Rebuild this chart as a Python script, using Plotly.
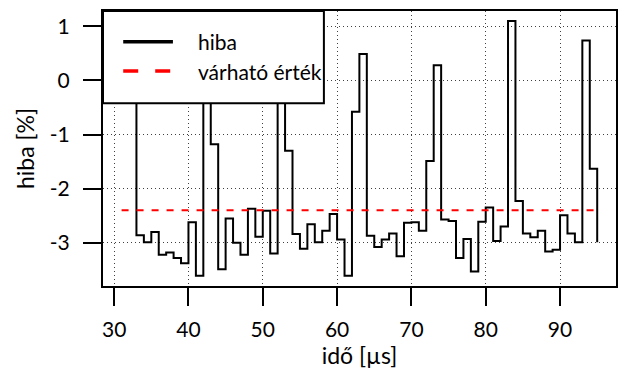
import plotly.graph_objects as go

# ---- data ----
ido = list(range(31, 96))  # time [µs]
hiba = [
    -0.20, 0.60, -2.86, -2.99, -2.80, -3.22, -3.18, -3.28, -3.38, -2.62,
    -3.61, 0.80, -1.18, -3.49, -2.55, -3.00, -3.22, -2.37, -2.89, -2.41,
    -3.20, 0.50, -1.30, -2.84, -3.11, -2.66, -2.99, -2.78, -2.47, -2.94,
    -3.61, -0.58, 0.49, -2.87, -3.08, -2.94, -2.83, -3.25, -2.63, -2.62,
    -2.78, -1.49, 0.28, -2.57, -2.60, -3.28, -2.93, -3.53, -2.61, -2.35,
    -2.97, -2.70, 1.10, -2.23, -2.83, -2.90, -2.78, -3.16, -3.13, -2.49,
    -2.83, -2.99, 0.74, -1.63, -2.99,
]
varhato_x = [31, 95]
varhato_y = [-2.4, -2.4]
series_names = ["hiba", "várható érték"]

x_tickvals = [30, 40, 50, 60, 70, 80, 90]
x_ticktext = ["30", "40", "50", "60", "70", "80", "90"]
y_tickvals = [-3, -2, -1, 0, 1]
y_ticktext = ["-3", "-2", "-1", "0", "1"]

FONT = "Lato"
FS = 21
FT = 23

fig = go.Figure()
fig.add_trace(go.Scatter(x=ido, y=hiba, mode="lines", name=series_names[0],
                         line=dict(color="black", width=2, shape="hv")))
fig.add_trace(go.Scatter(x=varhato_x, y=varhato_y, mode="lines", name=series_names[1],
                         line=dict(color="red", width=2, dash="7px,8px")))

axis_common = dict(
    showline=True, linecolor="black", linewidth=2, mirror=True,
    ticks="outside", ticklen=18, tickwidth=1.5, tickcolor="black",
    showgrid=True, gridcolor="#404040", gridwidth=1, griddash="1px,3px",
    zeroline=False, tickfont=dict(family=FONT, size=FS, color="black"),
)

fig.update_layout(
    width=627, height=370,
    margin=dict(l=103, r=9, t=11, b=84),
    paper_bgcolor="white", plot_bgcolor="white",
    showlegend=False,
    font=dict(family=FONT, size=FS, color="black"),
    xaxis=dict(range=[28.5, 97.53], tickmode="array", tickvals=x_tickvals,
               ticktext=x_ticktext, ticklabelstandoff=6,
               title=dict(text="idő [µs]", font=dict(family=FONT, size=FT), standoff=2),
               **axis_common),
    yaxis=dict(range=[-3.80, 1.285], tickmode="array", tickvals=y_tickvals,
               ticktext=y_ticktext, ticklabelstandoff=9,
               title=dict(text="hiba [%]", font=dict(family=FONT, size=FT), standoff=9),
               **axis_common),
)

# legend box (drawn manually to match the original layout)
lx1 = 0.4306
ly0 = 0.6644
fig.add_shape(type="rect", xref="paper", yref="paper", x0=0, x1=lx1, y0=ly0, y1=1,
              fillcolor="white", line=dict(color="black", width=2), layer="above")
row_y = [0.8884, 0.7818]
fig.add_shape(type="line", xref="paper", yref="paper", x0=0.0394, x1=0.1363,
              y0=row_y[0], y1=row_y[0], line=dict(color="black", width=3.5), layer="above")
fig.add_shape(type="line", xref="paper", yref="paper", x0=0.0394, x1=0.1363,
              y0=row_y[1], y1=row_y[1], line=dict(color="red", width=3.5, dash="15px,17px"),
              layer="above")
for name, yy in zip(series_names, row_y):
    fig.add_annotation(xref="paper", yref="paper", x=0.1804, y=yy, text=name,
                       showarrow=False, xanchor="left", yanchor="middle",
                       font=dict(family=FONT, size=FS, color="black"))

fig.write_html("out.html")
